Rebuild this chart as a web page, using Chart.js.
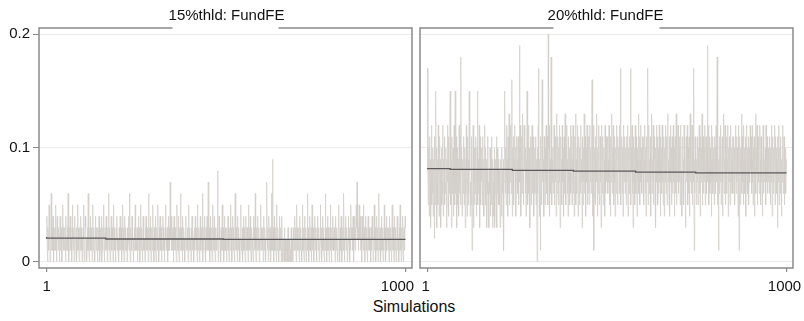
<!DOCTYPE html>
<html>
<head>
<meta charset="utf-8">
<script src="https://cdn.jsdelivr.net/npm/chart.js@4"></script>
<style>
  body { margin: 0; background: #fff; }
  #wrap { position: relative; width: 804px; height: 321px; overflow: hidden; }
  canvas { position: absolute; top: 0; }
  #xtitle {
    position: absolute; left: 0; width: 828px; top: 297px;
    text-align: center; font: 16px "Liberation Sans", Arial, sans-serif; color: #111;
    line-height: 20px;
  }
</style>
</head>
<body>
<div id="wrap">
  <canvas id="c15" width="432" height="296" style="left:0"></canvas>
  <canvas id="c20" width="409" height="296" style="left:404px"></canvas>
  <div id="xtitle">Simulations</div>
</div>
<script>
// panel titles
const panelTitles = ["15%thld: FundFE", "20%thld: FundFE"];
const xTicks = [1, 1000];
const yTicks = [0, 0.1, 0.2];

// per-simulation rejection rate, in percent
const rate15 = [
  2,4,1,0,3,2,1,5,2,3,0,1,2,6,1,2,3,1,4,2,0,2,1,3,2,5,1,2,0,3,4,2,1,1,3,2,0,2,4,1,2,3,1,0,2,5,3,1,2,2,
  1,3,2,0,4,1,2,2,3,1,6,2,0,1,3,2,4,1,1,2,0,3,5,2,1,2,3,0,1,4,2,2,1,3,0,2,1,5,3,2,1,0,2,3,1,4,2,1,3,0,
  2,1,3,5,2,0,1,2,4,3,1,2,0,2,3,1,6,2,1,0,3,2,4,1,2,1,3,0,2,5,1,2,3,1,0,2,4,2,1,3,2,1,0,3,2,1,4,2,0,1,
  3,2,1,4,0,2,1,3,2,5,1,0,2,3,1,2,4,1,2,0,3,1,2,6,2,1,3,0,1,2,4,2,1,3,2,0,1,5,2,3,1,2,0,1,3,2,4,1,2,1,
  2,0,3,1,2,4,1,2,3,0,2,1,5,3,2,1,0,2,4,1,3,2,1,2,0,3,1,2,4,2,1,6,2,0,1,3,2,1,4,2,3,1,0,2,1,3,2,5,1,2,
  1,2,3,0,2,1,4,2,3,1,0,2,5,1,3,2,1,0,2,4,3,1,2,1,0,3,2,4,1,2,3,1,2,0,6,2,1,3,2,4,1,0,2,3,1,2,5,2,1,0,
  3,1,2,4,1,0,2,3,2,1,5,2,0,1,3,2,4,2,1,3,0,2,1,2,4,3,1,2,0,1,3,2,5,1,2,1,3,0,2,4,1,2,3,1,7,2,2,4,1,3,
  2,1,3,0,2,4,1,2,3,1,2,0,3,5,2,1,2,4,1,0,3,2,1,6,2,3,1,2,0,4,2,1,3,2,1,0,2,3,4,1,2,2,1,3,0,2,5,1,2,3,
  1,2,0,3,2,4,1,3,2,1,0,2,3,1,4,2,2,1,3,0,5,2,1,2,3,1,0,2,4,1,2,3,2,1,6,0,2,1,3,2,4,1,2,0,3,1,2,4,1,2,
  7,2,1,3,0,2,4,1,2,3,1,0,2,5,1,3,2,1,4,0,2,3,1,2,1,3,8,2,0,1,4,2,3,1,2,0,3,2,1,5,2,1,3,0,2,4,1,2,3,1,
  2,0,3,1,2,4,2,1,0,3,2,1,5,2,3,1,0,2,4,1,2,3,1,0,2,6,1,2,3,1,2,0,4,2,1,3,2,1,0,2,3,5,1,2,1,3,0,2,4,1,
  3,2,1,0,2,4,1,2,3,1,2,0,5,1,2,3,1,4,2,0,1,3,2,2,1,0,4,2,3,1,2,6,1,0,2,3,1,2,4,2,1,3,0,2,1,2,5,1,3,2,
  2,1,3,0,4,2,1,3,2,1,0,2,5,7,2,1,3,0,2,4,1,2,3,1,0,2,6,1,2,9,1,3,0,2,4,1,2,1,3,0,2,5,1,2,3,1,0,2,4,1,
  2,1,3,0,2,4,1,2,0,1,2,1,3,0,2,0,1,2,0,1,2,0,3,0,1,2,0,2,1,1,0,3,0,1,2,0,1,2,3,1,2,4,1,3,2,0,5,2,1,3,
  1,2,3,0,2,4,1,3,2,1,0,2,5,1,2,3,1,0,4,2,1,3,2,0,1,2,6,1,3,2,0,2,4,1,2,1,3,0,2,5,1,2,3,1,0,2,4,2,1,3,
  2,1,0,3,2,4,1,2,3,0,1,2,5,2,1,3,0,2,4,1,2,3,1,0,2,1,6,2,3,1,0,2,4,1,3,2,1,0,2,3,5,1,2,0,3,2,1,4,2,1,
  3,1,2,0,4,2,1,3,2,1,0,2,3,5,1,2,0,3,2,1,4,2,0,1,3,2,1,6,2,0,1,3,2,4,1,2,3,0,1,2,4,2,1,3,0,2,1,5,2,3,
  2,3,1,4,2,0,3,2,4,1,3,2,5,3,7,2,4,3,1,2,5,3,2,4,1,3,2,0,4,3,2,1,5,2,3,1,0,2,4,1,2,3,1,0,2,4,1,2,3,1,
  1,2,0,3,2,1,4,2,3,0,1,2,5,1,2,3,0,2,1,4,2,1,3,0,2,6,1,2,3,1,0,2,4,1,2,3,1,0,2,1,5,2,3,1,0,2,4,1,2,3,
  2,1,3,0,2,4,1,2,3,1,0,2,5,1,2,3,1,0,4,2,1,3,2,0,1,2,4,1,3,2,0,1,3,2,5,1,2,0,3,1,2,4,1,0,2,3,1,2,4,3
];
const rate20 = [
  17,8,5,10,7,4,11,6,9,3,7,12,5,8,10,6,4,9,7,2,11,5,8,15,6,10,3,7,9,5,12,8,4,6,11,7,9,3,8,10,5,7,12,6,4,9,8,11,5,7,
  6,10,8,3,9,7,12,5,11,4,8,6,10,15,7,5,9,3,11,8,6,10,4,7,12,9,5,15,8,6,11,3,7,10,5,9,8,4,12,6,7,11,5,18,8,10,4,7,9,6,
  8,11,5,7,10,3,9,6,12,8,4,7,11,5,9,6,15,8,10,4,7,5,11,9,1,6,8,12,3,7,10,5,9,6,11,8,4,7,10,15,5,9,6,8,12,3,7,11,5,9,
  7,10,5,8,11,6,9,4,7,12,8,5,10,6,9,3,8,6,11,4,7,3,8,6,10,4,7,9,5,11,6,3,9,7,4,8,10,3,6,9,7,4,11,3,10,6,7,9,5,8,
  5,8,3,6,9,7,4,10,6,8,5,9,1,7,11,15,8,6,10,5,12,7,9,4,11,6,8,13,5,10,7,9,12,6,8,16,4,10,7,11,5,9,8,12,6,10,4,8,11,7,
  9,6,11,8,5,10,19,7,12,9,4,8,11,6,10,13,7,5,9,12,8,11,6,10,4,9,7,15,11,5,8,12,6,10,9,3,7,11,8,5,10,12,6,9,7,11,4,8,10,6,
  8,11,5,9,7,0,10,6,12,17,8,4,9,7,1,11,8,5,10,16,7,12,6,9,4,11,8,5,10,7,12,9,6,11,8,5,20,10,7,12,4,9,6,8,18,11,5,9,7,10,
  6,9,12,5,8,11,7,10,4,9,13,6,8,11,5,10,7,12,9,3,8,11,6,9,5,12,7,10,8,4,11,6,9,13,7,5,10,8,12,6,9,4,11,7,8,10,5,9,12,6,
  7,11,5,9,8,12,6,10,4,8,11,7,13,5,9,6,10,8,12,4,7,11,9,5,10,8,6,12,7,9,3,11,8,5,10,7,13,6,9,11,4,8,10,7,12,5,9,6,11,8,
  5,9,12,7,10,6,8,11,16,4,9,7,12,1,8,10,6,11,5,9,7,13,8,4,10,6,12,9,5,8,11,7,10,3,9,12,6,8,11,5,7,10,9,4,12,8,6,11,7,9,
  8,11,6,9,7,12,5,10,8,4,11,7,9,13,6,10,8,12,5,9,7,11,4,8,10,6,12,9,7,5,11,8,10,6,9,12,7,17,5,8,11,9,6,10,4,8,12,7,9,11,
  6,10,8,5,11,7,9,12,4,8,10,6,9,11,7,17,5,10,8,12,6,9,3,11,7,8,10,5,12,9,6,11,8,4,10,7,9,13,6,8,11,5,9,12,7,10,6,8,11,9,
  7,11,5,9,8,12,6,10,4,9,11,7,8,17,5,10,12,6,9,7,11,4,8,10,13,6,9,7,12,5,8,11,9,6,10,3,8,12,7,9,11,5,10,6,8,12,7,9,4,11,
  8,10,6,12,7,9,5,11,8,4,10,7,12,9,6,11,8,5,10,13,7,9,6,11,4,8,12,7,10,5,9,11,6,8,12,7,10,4,9,11,6,8,13,5,10,7,9,12,6,8,
  10,7,11,5,9,12,6,8,4,10,11,7,9,5,12,8,10,6,3,9,11,7,8,12,5,10,6,9,11,4,8,13,7,10,6,9,12,5,8,11,7,17,1,9,6,11,8,10,5,9,
  7,11,9,5,10,8,12,6,9,4,11,7,10,8,13,5,9,11,6,8,10,7,12,5,9,11,8,6,10,19,7,9,12,5,8,11,6,10,7,9,4,12,8,11,6,9,10,7,5,11,
  8,10,6,12,7,9,18,5,11,8,1,9,6,11,7,10,12,5,8,9,11,4,7,10,13,6,9,8,12,5,10,7,11,6,9,8,12,4,10,7,11,9,5,8,12,6,10,7,9,11,
  6,9,11,7,10,5,8,12,9,6,11,7,10,8,4,9,12,1,7,11,5,10,8,9,13,6,11,7,9,5,12,8,10,6,9,11,4,8,12,7,10,6,9,11,5,8,10,7,12,9,
  8,11,6,9,7,12,5,10,8,11,4,9,7,13,6,10,8,12,5,9,11,7,10,6,8,12,9,5,11,7,10,8,4,9,12,6,11,7,9,8,10,5,12,7,9,11,6,8,10,7,
  9,6,11,8,5,10,7,12,9,4,8,11,6,10,7,9,12,5,8,11,7,10,6,9,3,11,8,12,7,5,10,9,6,11,8,4,9,7,12,10,6,8,11,5,9,7,10,6,8,9
];

// running mean, drawn as steps: value holds from each break to the next
const meanBreaks15 = [1, 166, 493, 818, 1000];
const meanVals15 = [0.0217, 0.0208, 0.0200, 0.0197];
const meanBreaks20 = [1, 64, 237, 407, 580, 747, 917, 1000];
const meanVals20 = [0.0823, 0.0818, 0.0812, 0.0803, 0.0797, 0.0788, 0.0782];

const FONT = '"Liberation Sans", Arial, sans-serif';
const FRAME = "#8a8a8a";

function toPoints(rates) {
  return rates.map((r, i) => ({ x: i + 1, y: r / 100 }));
}
function toSteps(breaks, vals) {
  const pts = vals.map((v, i) => ({ x: breaks[i], y: v }));
  pts.push({ x: breaks[breaks.length - 1], y: vals[vals.length - 1] });
  return pts;
}

// frame with a gap in the top edge for the panel title, plus x tick labels
const framePlugin = {
  id: "frame",
  afterDraw(chart, args, opts) {
    const { ctx, chartArea: a } = chart;
    const cx = (a.left + a.right) / 2;
    ctx.save();
    ctx.strokeStyle = FRAME;
    ctx.lineWidth = 1.5;
    ctx.beginPath();
    ctx.moveTo(cx - 53, a.top);
    ctx.lineTo(a.left, a.top);
    ctx.lineTo(a.left, a.bottom);
    ctx.lineTo(a.right, a.bottom);
    ctx.lineTo(a.right, a.top);
    ctx.lineTo(cx + 53, a.top);
    ctx.stroke();
    ctx.fillStyle = "#111";
    ctx.font = "15px " + FONT;
    ctx.textAlign = "center";
    ctx.textBaseline = "alphabetic";
    ctx.fillText(opts.text, cx + opts.dx, 20);
    // x tick labels, nudged like the original layout
    const xs = chart.scales.x;
    ctx.textBaseline = "top";
    xTicks.forEach((v, i) => {
      ctx.fillText(String(v), xs.getPixelForValue(v) + opts.shift[i], a.bottom + 11);
    });
    ctx.restore();
  },
};

function makePanel(id, title, rates, breaks, vals, showY, yWidth, padRight, dx, shift) {
  return new Chart(document.getElementById(id), {
    type: "line",
    data: {
      datasets: [
        {
          data: toSteps(breaks, vals),
          borderColor: "#5a5a5a",
          borderWidth: 1.3,
          stepped: "after",
          pointRadius: 0,
        },
        {
          data: toPoints(rates),
          borderColor: "#d3cfc9",
          borderWidth: 0.75,
          pointRadius: 0,
          tension: 0,
        },
      ],
    },
    options: {
      responsive: false,
      animation: false,
      devicePixelRatio: 1,
      layout: { padding: { top: 28, right: padRight, left: 0, bottom: 0 } },
      plugins: {
        legend: { display: false },
        tooltip: { enabled: false },
        frame: { text: title, dx: dx, shift: shift },
      },
      scales: {
        x: {
          type: "linear",
          min: -20,
          max: 1018,
          afterBuildTicks: (s) => { s.ticks = xTicks.map((v) => ({ value: v })); },
          afterFit: (s) => { s.height = 28; },
          border: { display: false },
          grid: { drawOnChartArea: false, drawTicks: true, tickLength: 4, color: FRAME, lineWidth: 1.2 },
          ticks: { display: false },
        },
        y: {
          min: -0.0055,
          max: 0.2055,
          afterBuildTicks: (s) => { s.ticks = yTicks.map((v) => ({ value: v })); },
          afterFit: (s) => { s.width = yWidth; },
          border: { display: false },
          grid: {
            color: "#ececec",
            lineWidth: 1,
            drawTicks: showY,
            tickLength: 6,
            tickColor: FRAME,
          },
          ticks: {
            display: showY,
            color: "#111",
            font: { family: FONT, size: 15 },
            padding: 3,
            callback: (v) => String(v),
          },
        },
      },
    },
    plugins: [framePlugin],
  });
}

makePanel("c15", panelTitles[0], rate15, meanBreaks15, meanVals15, true, 39, 20, 1, [0, -8]);
makePanel("c20", panelTitles[1], rate20, meanBreaks20, meanVals20, false, 16, 20, -1, [-2, -2]);
</script>
</body>
</html>
